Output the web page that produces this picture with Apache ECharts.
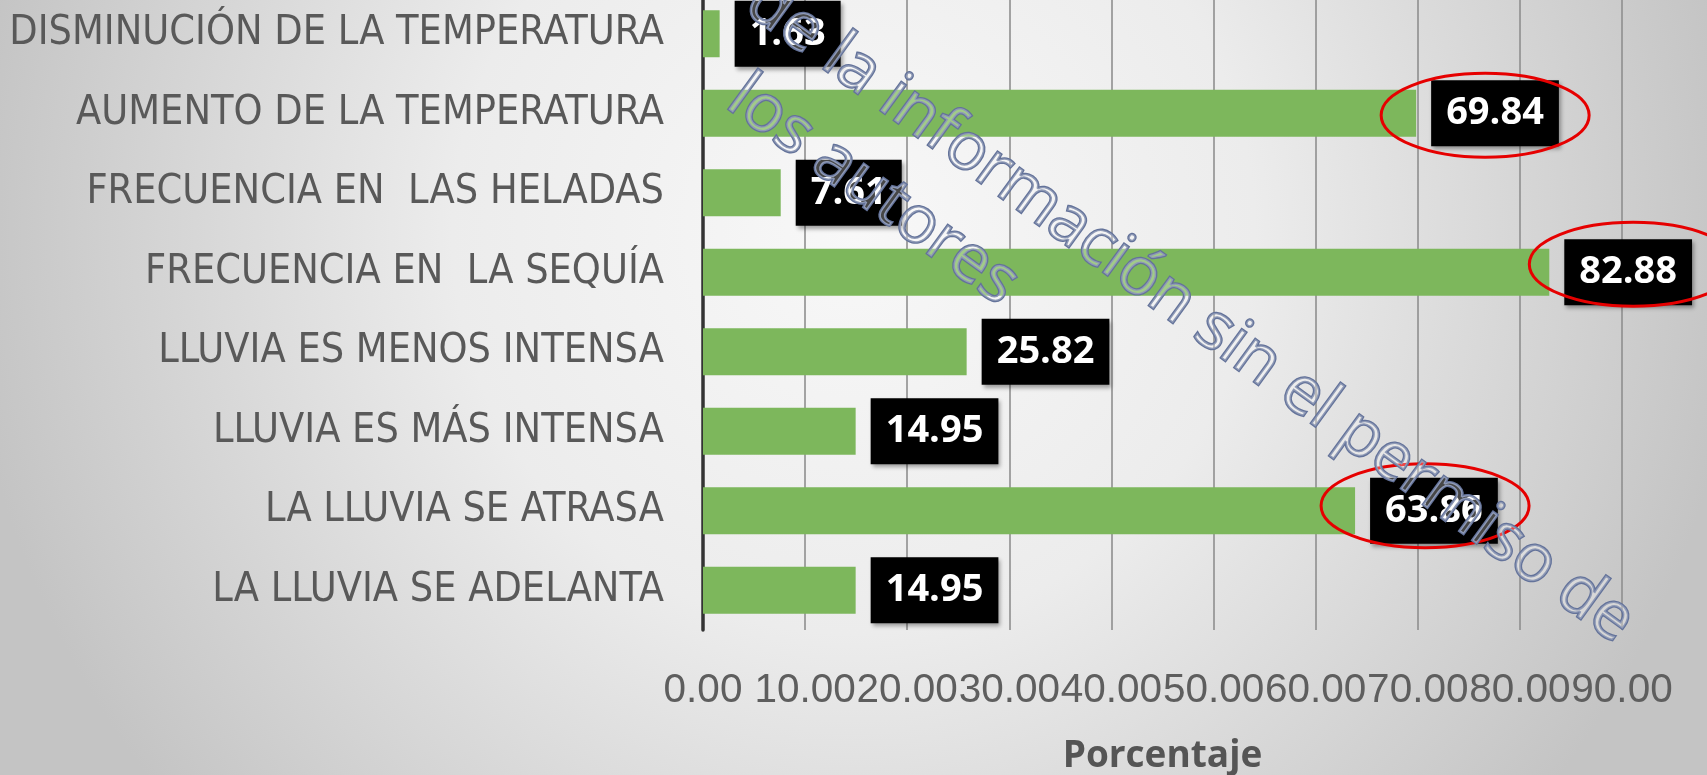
<!DOCTYPE html>
<html>
<head>
<meta charset="utf-8">
<title>Porcentaje</title>
<script src="https://cdn.jsdelivr.net/npm/echarts@6/dist/echarts.min.js"></script>
<style>
  html, body { margin: 0; padding: 0; overflow: hidden; }
  #main { width: 1707px; height: 775px; }
</style>
</head>
<body>
<div id="main"></div>
<script>
"use strict";
// datos (de arriba hacia abajo)
var categorias = [
  "DISMINUCIÓN DE LA TEMPERATURA",
  "AUMENTO DE LA TEMPERATURA",
  "FRECUENCIA EN  LAS HELADAS",
  "FRECUENCIA EN  LA SEQUÍA",
  "LLUVIA ES MENOS INTENSA",
  "LLUVIA ES MÁS INTENSA",
  "LA LLUVIA SE ATRASA",
  "LA LLUVIA SE ADELANTA"
];
var porcentajes = [1.63, 69.84, 7.61, 82.88, 25.82, 14.95, 63.86, 14.95];
var ejeMin = 0, ejeMax = 90, ejeIntervalo = 10;
// etiquetas marcadas con circulo rojo: indice de la barra y ajuste a mano
var resaltados = [
  {idx: 1, dx: 69, dy: 2},
  {idx: 3, dx: 84, dy: -8},
  {idx: 6, dx: 70, dy: -5}
];
var marcaAgua = ["de la información sin el permiso de", "los autores"];

var chart = echarts.init(document.getElementById("main"));

var option = {
  animation: false,
  backgroundColor: {
    type: "radial", x: 0.5, y: 0.3, r: 1.15,
    colorStops: [
      {offset: 0, color: "#f8f8f8"},
      {offset: 0.45, color: "#ececec"},
      {offset: 1, color: "#c4c4c4"}
    ]
  },
  grid: {left: 703, right: 85, top: -6, bottom: 145, outerBoundsMode: "none"},
  xAxis: {
    type: "value",
    min: ejeMin, max: ejeMax, interval: ejeIntervalo,
    name: "Porcentaje",
    nameLocation: "middle",
    nameGap: 108,
    nameTextStyle: {fontFamily: "Open Sans", fontWeight: "bold", fontSize: 37, color: "#555"},
    axisLine: {show: false},
    axisTick: {show: false},
    axisLabel: {
      margin: 40,
      fontFamily: "Liberation Sans",
      fontSize: 40.5,
      color: "#5e5e5e",
      showMinLabel: true,
      showMaxLabel: true,
      hideOverlap: false,
      formatter: function (v) { return v.toFixed(2); }
    },
    splitLine: {lineStyle: {color: "#8f8f8f", width: 1.6}}
  },
  yAxis: {
    type: "category",
    inverse: true,
    data: categorias,
    axisLine: {lineStyle: {color: "#333", width: 3.5}},
    axisTick: {show: false},
    axisLabel: {
      margin: 39,
      fontFamily: "'DejaVu Sans Condensed', sans-serif",
      fontSize: 41,
      color: "#595959"
    }
  },
  series: [{
    type: "bar",
    data: porcentajes,
    barWidth: 47,
    itemStyle: {color: "#7db75c"},
    label: {
      show: true,
      position: "right",
      distance: 15,
      formatter: function (p) { return p.value.toFixed(2); },
      fontFamily: "Open Sans",
      fontWeight: "bold",
      fontSize: 38,
      lineHeight: 38,
      color: "#fff",
      backgroundColor: "#000",
      padding: [14, 15],
      shadowColor: "rgba(0,0,0,0.35)",
      shadowBlur: 4,
      shadowOffsetX: 2,
      shadowOffsetY: 3
    }
  }]
};
chart.setOption(option);

/** circulos rojos y marca de agua **/
var graficos = [];
resaltados.forEach(function (r) {
  var p = chart.convertToPixel({gridIndex: 0}, [porcentajes[r.idx], r.idx]);
  graficos.push({
    type: "ellipse",
    z: 150,
    shape: {cx: p[0] + r.dx, cy: p[1] + r.dy, rx: 104, ry: 42},
    style: {fill: null, stroke: "#e60000", lineWidth: 3}
  });
});
var angulo = -36 * Math.PI / 180;
var centros = [[1190, 312], [873, 191]];
marcaAgua.forEach(function (t, i) {
  graficos.push({
    type: "text",
    z: 200,
    x: centros[i][0],
    y: centros[i][1],
    rotation: angulo,
    style: {
      text: t,
      x: 0, y: 0,
      align: "center",
      verticalAlign: "middle",
      fontFamily: "Open Sans",
      fontSize: 66,
      fill: "rgba(255,255,255,0.28)",
      stroke: "#64739a",
      lineWidth: 2.6
    }
  });
});
chart.setOption({graphic: graficos});
</script>
</body>
</html>
